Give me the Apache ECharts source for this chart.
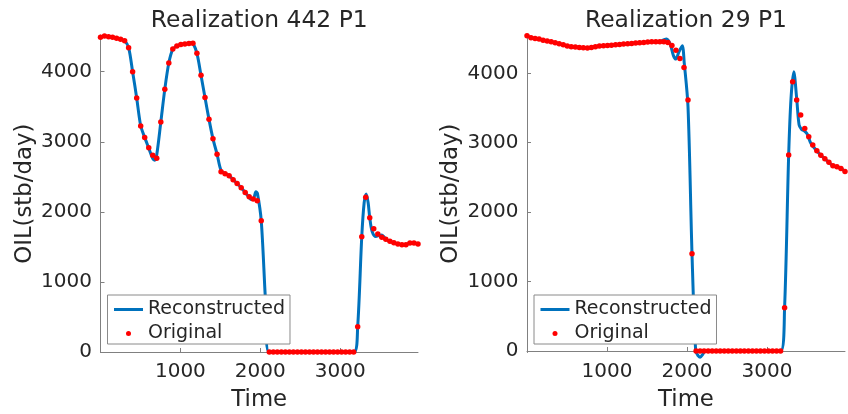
<!DOCTYPE html>
<html>
<head>
<meta charset="utf-8">
<script src="https://cdn.jsdelivr.net/npm/echarts@6/dist/echarts.min.js"></script>
<style>
html,body{margin:0;padding:0;background:#fff;}
#c{width:848px;height:414px;}
</style>
</head>
<body>
<div id="c"></div>
<script>
// ---- data ----
const titles = ['Realization 442 P1', 'Realization 29 P1'];
const xTicks = [1000, 2000, 3000];
const yTicks = [0, 1000, 2000, 3000, 4000];

const times = [0,50,101,151,201,252,302,352,402,453,
  503,553,604,654,704,755,805,855,905,956,
  1006,1056,1107,1157,1207,1258,1308,1358,1408,1459,
  1509,1559,1610,1660,1710,1761,1811,1861,1911,1962,
  2012,2062,2113,2163,2213,2264,2314,2364,2414,2465,
  2515,2565,2616,2666,2716,2767,2817,2867,2917,2968,
  3018,3068,3119,3169,3219,3270,3320,3370,3420,3471,
  3521,3571,3622,3672,3722,3773,3823,3873,3923,3974];

const origL = [4491,4509,4500,4491,4476,4462,4443,4343,4000,3625,
  3225,3063,2915,2809,2766,3282,3751,4124,4324,4367,
  4388,4397,4402,4405,4262,3950,3631,3320,3042,2823,
  2571,2545,2516,2460,2405,2345,2278,2216,2183,2157,
  1872,740,0,0,0,0,0,0,0,0,
  0,0,0,0,0,0,0,0,0,0,
  0,0,0,0,361,1645,2207,1917,1760,1684,
  1636,1608,1579,1560,1541,1531,1531,1555,1555,1541];

const origR = [4540,4512,4503,4493,4478,4464,4454,4440,4425,4411,
  4392,4382,4378,4373,4368,4363,4373,4382,4392,4397,
  4402,4406,4411,4416,4421,4425,4430,4435,4440,4445,
  4450,4454,4454,4454,4454,4445,4400,4334,4214,4085,
  3614,1401,0,0,0,0,0,0,0,0,
  0,0,0,0,0,0,0,0,0,0,
  0,0,0,0,624,2822,3878,3614,3398,3206,
  3086,2966,2885,2818,2770,2717,2669,2654,2630,2587];

const reconL = [[0,4490],[50,4505],[101,4500],[151,4491],[201,4477],[252,4462],[302,4443],[352,4345],
  [402,4000],[453,3625],[503,3228],[553,3063],[604,2910],[654,2760],[679,2738],[704,2815],[755,3282],
  [805,3751],[855,4124],[905,4322],[956,4368],[1006,4390],[1056,4400],[1107,4410],[1137,4418],
  [1157,4410],[1207,4262],[1258,3950],[1308,3631],[1358,3320],[1408,3042],[1459,2823],[1509,2590],
  [1559,2548],[1610,2516],[1660,2460],[1710,2405],[1761,2345],[1811,2278],[1861,2205],[1890,2175],
  [1920,2200],[1945,2287],[1964,2264],[2012,1872],[2062,800],[2106,0],[3173,0],[3219,361],
  [3270,1645],[3300,2130],[3326,2255],[3350,2130],[3370,1917],[3400,1720],[3447,1648],[3490,1665],
  [3519,1670],[3550,1640],[3571,1610],[3622,1579],[3672,1560],[3722,1541],[3773,1531],[3823,1531],
  [3873,1555],[3923,1555],[3974,1541]];

const reconR = [[0,4540],[50,4512],[101,4503],[151,4493],[201,4478],[252,4464],[302,4454],[352,4440],
  [402,4425],[453,4411],[503,4392],[553,4382],[604,4378],[654,4373],[704,4368],[755,4363],[805,4373],
  [855,4382],[905,4392],[956,4397],[1006,4402],[1056,4406],[1107,4411],[1157,4416],[1207,4421],
  [1258,4425],[1308,4430],[1358,4435],[1408,4440],[1459,4445],[1509,4450],[1559,4454],[1610,4454],
  [1660,4456],[1700,4478],[1745,4495],[1790,4420],[1830,4255],[1861,4205],[1895,4300],[1940,4397],
  [1965,4150],[2012,3520],[2062,1401],[2108,0],[2140,-70],[2165,-90],[2195,-50],[2230,0],[3171,0],
  [3219,624],[3270,2822],[3300,3650],[3334,4022],[3370,3640],[3400,3260],[3430,3195],[3460,3175],
  [3500,3130],[3540,3010],[3571,2950],[3622,2885],[3672,2818],[3722,2770],[3773,2717],[3823,2669],
  [3873,2654],[3923,2630],[3974,2587]];

// ---- chart ----
const FONT = '"DejaVu Sans", "Liberation Sans", sans-serif';
const BLUE = '#0072BD', RED = '#FF0000', AX = '#808080', TXT = '#262626';

const grids = [
  {left: 100.5, top: 35, width: 317.5, height: 317.5},
  {left: 527, top: 35, width: 318, height: 317.5}
];
const yRanges = [[-7, 4524], [-22, 4552]];

function pair(t, v) { return t.map((x, i) => [x, v[i]]); }
const plain = v => String(v);

const xAxes = grids.map((g, i) => ({
  type: 'value', gridIndex: i, min: 0, max: times[times.length - 1],
  axisLine: {show: true, lineStyle: {color: AX, width: 1}},
  axisTick: {show: true, inside: true, length: 4, lineStyle: {color: AX}, customValues: xTicks},
  axisLabel: {show: true, color: TXT, fontSize: 20, fontFamily: FONT, margin: 9.5, customValues: xTicks, formatter: plain},
  splitLine: {show: false}
}));
const yAxes = grids.map((g, i) => ({
  type: 'value', gridIndex: i, min: yRanges[i][0], max: yRanges[i][1],
  axisLine: {show: true, lineStyle: {color: AX, width: 1}},
  axisTick: {show: true, inside: true, length: 4, lineStyle: {color: AX}, customValues: yTicks},
  axisLabel: {show: true, color: TXT, fontSize: 20, fontFamily: FONT, margin: 8.5, customValues: yTicks, formatter: plain},
  splitLine: {show: false}
}));

const series = [];
[reconL, reconR].forEach((r, i) => series.push({
  name: 'Reconstructed', type: 'line', xAxisIndex: i, yAxisIndex: i, data: r,
  symbol: 'none', smooth: 0.3, clip: false, z: 2,
  lineStyle: {color: BLUE, width: 3}, itemStyle: {color: BLUE}
}));
[origL, origR].forEach((o, i) => series.push({
  name: 'Original', type: 'scatter', xAxisIndex: i, yAxisIndex: i, data: pair(times, o),
  symbol: 'circle', symbolSize: 5.5, z: 3, itemStyle: {color: RED, opacity: 1}
}));

const legends = grids.map((g, i) => ({
  orient: 'vertical', left: g.left + 7, top: 295,
  backgroundColor: '#ffffff', borderColor: '#8a8a8a', borderWidth: 1, borderRadius: 0,
  padding: [5, 5, 1, 5], itemGap: 5, itemWidth: 29, itemHeight: 5,
  textStyle: {fontSize: 19, fontFamily: FONT, color: TXT},
  lineStyle: {width: 3},
  data: [
    {name: 'Reconstructed', lineStyle: {width: 3, color: BLUE}, itemStyle: {opacity: 0, color: 'rgba(0,0,0,0)'}},
    {name: 'Original', icon: 'circle', itemStyle: {color: RED}}
  ],
  selectedMode: false, z: 10
}));

const graphics = [];
grids.forEach((g, i) => {
  const cx = g.left + g.width / 2;
  graphics.push({type: 'text', x: cx, y: 21, style: {text: titles[i], font: '23.4px ' + FONT, fill: TXT,
    align: 'center', verticalAlign: 'middle', textAlign: 'center', textVerticalAlign: 'middle'}});
  graphics.push({type: 'text', x: cx, y: 400.5, style: {text: 'Time', font: '22.8px ' + FONT, fill: TXT,
    align: 'center', verticalAlign: 'middle', textAlign: 'center', textVerticalAlign: 'middle'}});
  graphics.push({type: 'text', x: g.left - 75.5, y: g.top + g.height / 2, rotation: Math.PI / 2,
    style: {text: 'OIL(stb/day)', font: '22.8px ' + FONT, fill: TXT,
    align: 'center', verticalAlign: 'middle', textAlign: 'center', textVerticalAlign: 'middle'}});
});

const chart = echarts.init(document.getElementById('c'), null, {renderer: 'canvas'});
chart.setOption({
  animation: false,
  backgroundColor: '#ffffff',
  grid: grids.map(g => Object.assign({containLabel: false, outerBoundsMode: 'none'}, g)),
  xAxis: xAxes,
  yAxis: yAxes,
  legend: legends,
  series: series,
  graphic: graphics
});
</script>
</body>
</html>
